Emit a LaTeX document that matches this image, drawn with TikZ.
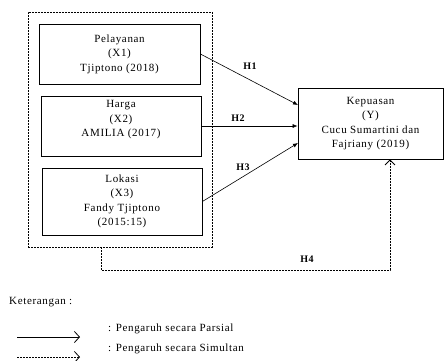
\documentclass[tikz,border=0pt]{standalone}
\usepackage{fontspec}
\setmainfont{Liberation Serif}[LetterSpace=6]
\usetikzlibrary{arrows.meta}
\tikzset{
    varbox/.style={draw, line width=0.8pt, align=center, inner sep=0pt,
        font=\fontsize{11}{14.5}\selectfont},
    hlabel/.style={font=\fontsize{10}{12}\selectfont\bfseries},
    partial/.style={line width=0.6pt, -{Latex[length=5pt,width=4pt]}},
    simul/.style={line width=0.8pt, dash pattern=on 2pt off 1pt},
    legtext/.style={anchor=west, inner sep=0pt, font=\fontsize{11}{14}\selectfont}
}
\begin{document}
\begin{tikzpicture}[x=1pt, y=-1pt]
    \useasboundingbox (0, 0) rectangle (444, 360);
    % variabel bebas
    \node[simul, draw, minimum width=184pt, minimum height=235pt] (frame) at (120, 129.5) {};
    \node[varbox, minimum width=161pt, minimum height=60pt] (x1) at (119.5, 54)
        {Pelayanan\\(X1)\\Tjiptono (2018)};
    \node[varbox, minimum width=160pt, minimum height=60pt] (x2) at (121, 126)
        {Harga\\(X2)\\AMILIA (2017)\\\mbox{}};
    \node[varbox, minimum width=160pt, minimum height=67pt] (x3) at (122, 201.5)
        {Lokasi\\(X3)\\Fandy Tjiptono\\(2015:15)};
    % variabel terikat
    \node[varbox, minimum width=145pt, minimum height=71pt] (y) at (370.5, 123.5)
        {Kepuasan\\(Y)\\Cucu Sumartini dan\\Fajriany (2019)};
    % hipotesis
    \coordinate (yin1) at (298, 105);
    \coordinate (yin3) at (298, 143);
    \draw[partial] (x1.east) -- (yin1);
    \draw[partial] (x2.east) -- (x2.east -| y.west);
    \draw[partial] (x3.east) -- (yin3);
    \draw[simul, -{Straight Barb[length=5pt,width=10pt]}]
        ([xshift=-19pt]frame.south) -- ++(0, 23) -| ([xshift=19.5pt]y.south);
    \node[hlabel] (h1) at (250, 66) {H1};
    \node[hlabel] (h2) at (238, 118) {H2};
    \node[hlabel] (h3) at (243, 167) {H3};
    \node[hlabel] (h4) at (307, 259) {H4};
    % keterangan
    \node[legtext] (ket) at (9, 302) {Keterangan :};
    \coordinate (pa) at (17, 337);
    \coordinate (pb) at (80, 337);
    \coordinate (sa) at (17, 357);
    \coordinate (sb) at (80, 357);
    \draw[line width=0.8pt, -{Straight Barb[length=5pt,width=11pt]}] (pa) -- (pb);
    \draw[simul, -{Straight Barb[length=5pt,width=11pt]}] (sa) -- (sb);
    \node[legtext] (parsial) at (108, 329) {: Pengaruh secara Parsial};
    \node[legtext] (simultan) at (108, 349) {: Pengaruh secara Simultan};
\end{tikzpicture}
\end{document}
